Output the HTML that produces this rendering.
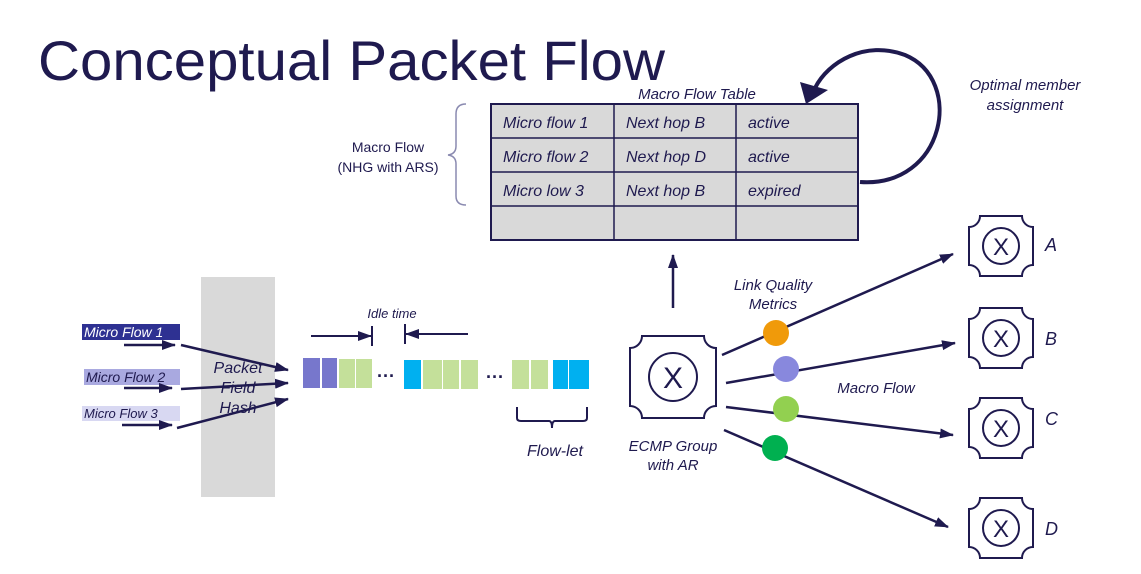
<!DOCTYPE html>
<html><head><meta charset="utf-8"><style>
html,body{margin:0;padding:0;background:#fff;}
svg{display:block;}
text{font-family:"Liberation Sans",sans-serif;fill:#1f1a4f;}
.it{font-style:italic;}
</style></head><body>
<svg width="1141" height="574" viewBox="0 0 1141 574" xmlns="http://www.w3.org/2000/svg">
<defs>
<marker id="ah" markerWidth="14" markerHeight="12" refX="13" refY="6" orient="auto" markerUnits="userSpaceOnUse">
<path d="M0,1 L14,6 L0,11 z" fill="#1f1a4f"/></marker>
</defs>
<text x="38" y="80" font-size="56" textLength="627" lengthAdjust="spacingAndGlyphs" style="fill:#1f1a4f">Conceptual Packet Flow</text>

<!-- table -->
<text x="697" y="99" font-size="15" text-anchor="middle" class="it">Macro Flow Table</text>
<rect x="491" y="104" width="367" height="136" fill="#d9d9d9" stroke="#1f1a4f" stroke-width="2"/>
<g stroke="#1f1a4f" stroke-width="1.5">
<line x1="491" y1="138" x2="858" y2="138"/><line x1="491" y1="172" x2="858" y2="172"/><line x1="491" y1="206" x2="858" y2="206"/>
<line x1="614" y1="104" x2="614" y2="240"/><line x1="736" y1="104" x2="736" y2="240"/>
</g>
<g font-size="16" class="it">
<text x="503" y="128" class="it">Micro flow 1</text><text x="626" y="128" class="it">Next hop B</text><text x="748" y="128" class="it">active</text>
<text x="503" y="162" class="it">Micro flow 2</text><text x="626" y="162" class="it">Next hop D</text><text x="748" y="162" class="it">active</text>
<text x="503" y="196" class="it">Micro low 3</text><text x="626" y="196" class="it">Next hop B</text><text x="748" y="196" class="it">expired</text>
</g>
<path d="M466,104 Q456,104 456,114 L456,146 Q456,154 448,155 Q456,156 456,164 L456,196 Q456,205 466,205" fill="none" stroke="#8a8ab0" stroke-width="1.5"/>
<text x="388" y="152" font-size="14" text-anchor="middle">Macro Flow</text>
<text x="388" y="172" font-size="14" text-anchor="middle">(NHG with ARS)</text>

<!-- loop -->
<path d="M860,182 C945,188 965,80 905,55 C865,40 828,62 815,88" fill="none" stroke="#1f1a4f" stroke-width="4"/>
<path d="M800,82 L828,90 L806,104 z" fill="#1f1a4f"/>
<text x="1025" y="90" font-size="15" text-anchor="middle" class="it">Optimal member</text>
<text x="1025" y="110" font-size="15" text-anchor="middle" class="it">assignment</text>

<!-- hash bar -->
<rect x="201" y="277" width="74" height="220" fill="#d9d9d9"/>
<rect x="82" y="324" width="98" height="16" fill="#2e3192"/>
<text x="84" y="337" font-size="14" class="it" style="fill:#fff">Micro Flow 1</text>
<rect x="84" y="369" width="96" height="16" fill="#a9a9e0"/>
<text x="86" y="382" font-size="14" class="it">Micro Flow 2</text>
<rect x="82" y="406" width="98" height="15" fill="#d8d8f2"/>
<text x="84" y="418" font-size="13" class="it">Micro Flow 3</text>
<g font-size="16" class="it" text-anchor="middle">
<text x="238" y="373" class="it">Packet</text><text x="238" y="393" class="it">Field</text><text x="238" y="413" class="it">Hash</text>
</g>
<g stroke="#1f1a4f" stroke-width="2.5" marker-end="url(#ah)">
<line x1="124" y1="345" x2="175" y2="345"/><line x1="124" y1="388" x2="172" y2="388"/><line x1="122" y1="425" x2="172" y2="425"/>
<line x1="181" y1="345" x2="288" y2="370"/><line x1="181" y1="389" x2="288" y2="383"/><line x1="177" y1="428" x2="288" y2="399"/>
</g>

<!-- packets -->
<g>
<rect x="303" y="358" width="17" height="30" fill="#7777cc"/><rect x="322" y="358" width="15" height="30" fill="#7777cc"/>
<rect x="339" y="359" width="16" height="29" fill="#c4e09a"/><rect x="356" y="359" width="16" height="29" fill="#c4e09a"/>
<rect x="404" y="360" width="17" height="29" fill="#00b0f0"/><rect x="423" y="360" width="19" height="29" fill="#c4e09a"/>
<rect x="443" y="360" width="16" height="29" fill="#c4e09a"/><rect x="461" y="360" width="17" height="29" fill="#c4e09a"/>
<rect x="512" y="360" width="17" height="29" fill="#c4e09a"/><rect x="531" y="360" width="17" height="29" fill="#c4e09a"/>
<rect x="553" y="360" width="15" height="29" fill="#00b0f0"/><rect x="569" y="360" width="20" height="29" fill="#00b0f0"/>
</g>
<text x="386" y="382" font-size="18" text-anchor="middle" font-weight="bold">···</text>
<text x="495" y="383" font-size="18" text-anchor="middle" font-weight="bold">···</text>
<text x="392" y="318" font-size="13" text-anchor="middle" class="it">Idle time</text>
<g stroke="#1f1a4f" stroke-width="2">
<line x1="311" y1="336" x2="371" y2="336" marker-end="url(#ah)"/>
<line x1="468" y1="334" x2="406" y2="334" marker-end="url(#ah)"/>
<line x1="372" y1="326" x2="372" y2="346"/><line x1="405" y1="324" x2="405" y2="344"/>
</g>
<path d="M517,407 L517,418 Q517,421 521,421 L549,421 Q552,421 552,428 Q552,421 555,421 L583,421 Q587,421 587,418 L587,407" fill="none" stroke="#1f1a4f" stroke-width="2"/>
<text x="555" y="456" font-size="16" text-anchor="middle" class="it">Flow-let</text>

<!-- switches -->
<g fill="none" stroke="#1f1a4f" stroke-width="2">
<path d="M642,336 L704,336 A12,12 0 0 0 716,348 L716,406 A12,12 0 0 0 704,418 L642,418 A12,12 0 0 0 630,406 L630,348 A12,12 0 0 0 642,336 Z"/>
<circle cx="673" cy="377" r="24"/>
<path d="M980,216 L1022,216 A11,11 0 0 0 1033,227 L1033,265 A11,11 0 0 0 1022,276 L980,276 A11,11 0 0 0 969,265 L969,227 A11,11 0 0 0 980,216 Z"/>
<circle cx="1001" cy="246" r="18"/>
<path d="M980,308 L1022,308 A11,11 0 0 0 1033,319 L1033,357 A11,11 0 0 0 1022,368 L980,368 A11,11 0 0 0 969,357 L969,319 A11,11 0 0 0 980,308 Z"/>
<circle cx="1001" cy="338" r="18"/>
<path d="M980,398 L1022,398 A11,11 0 0 0 1033,409 L1033,447 A11,11 0 0 0 1022,458 L980,458 A11,11 0 0 0 969,447 L969,409 A11,11 0 0 0 980,398 Z"/>
<circle cx="1001" cy="428" r="18"/>
<path d="M980,498 L1022,498 A11,11 0 0 0 1033,509 L1033,547 A11,11 0 0 0 1022,558 L980,558 A11,11 0 0 0 969,547 L969,509 A11,11 0 0 0 980,498 Z"/>
<circle cx="1001" cy="528" r="18"/>
</g>
<g font-size="30" text-anchor="middle"><text x="673" y="388">X</text></g>
<g font-size="24" text-anchor="middle">
<text x="1001" y="255">X</text><text x="1001" y="347">X</text><text x="1001" y="437">X</text><text x="1001" y="537">X</text>
</g>
<g font-size="18" class="it">
<text x="1045" y="251" class="it">A</text><text x="1045" y="345" class="it">B</text><text x="1045" y="425" class="it">C</text><text x="1045" y="535" class="it">D</text>
</g>
<g stroke="#1f1a4f" stroke-width="2.5" marker-end="url(#ah)">
<line x1="673" y1="308" x2="673" y2="255"/>
<line x1="722" y1="355" x2="953" y2="254"/>
<line x1="726" y1="383" x2="955" y2="343"/>
<line x1="726" y1="407" x2="953" y2="435"/>
<line x1="724" y1="430" x2="948" y2="527"/>
</g>
<circle cx="776" cy="333" r="13" fill="#f09a0a"/>
<circle cx="786" cy="369" r="13" fill="#8888dd"/>
<circle cx="786" cy="409" r="13" fill="#92d050"/>
<circle cx="775" cy="448" r="13" fill="#00b050"/>
<text x="773" y="290" font-size="15" text-anchor="middle" class="it">Link Quality</text>
<text x="773" y="309" font-size="15" text-anchor="middle" class="it">Metrics</text>
<text x="876" y="393" font-size="15" text-anchor="middle" class="it">Macro Flow</text>
<text x="673" y="451" font-size="15" text-anchor="middle" class="it">ECMP Group</text>
<text x="673" y="470" font-size="15" text-anchor="middle" class="it">with AR</text>
</svg>
</body></html>
